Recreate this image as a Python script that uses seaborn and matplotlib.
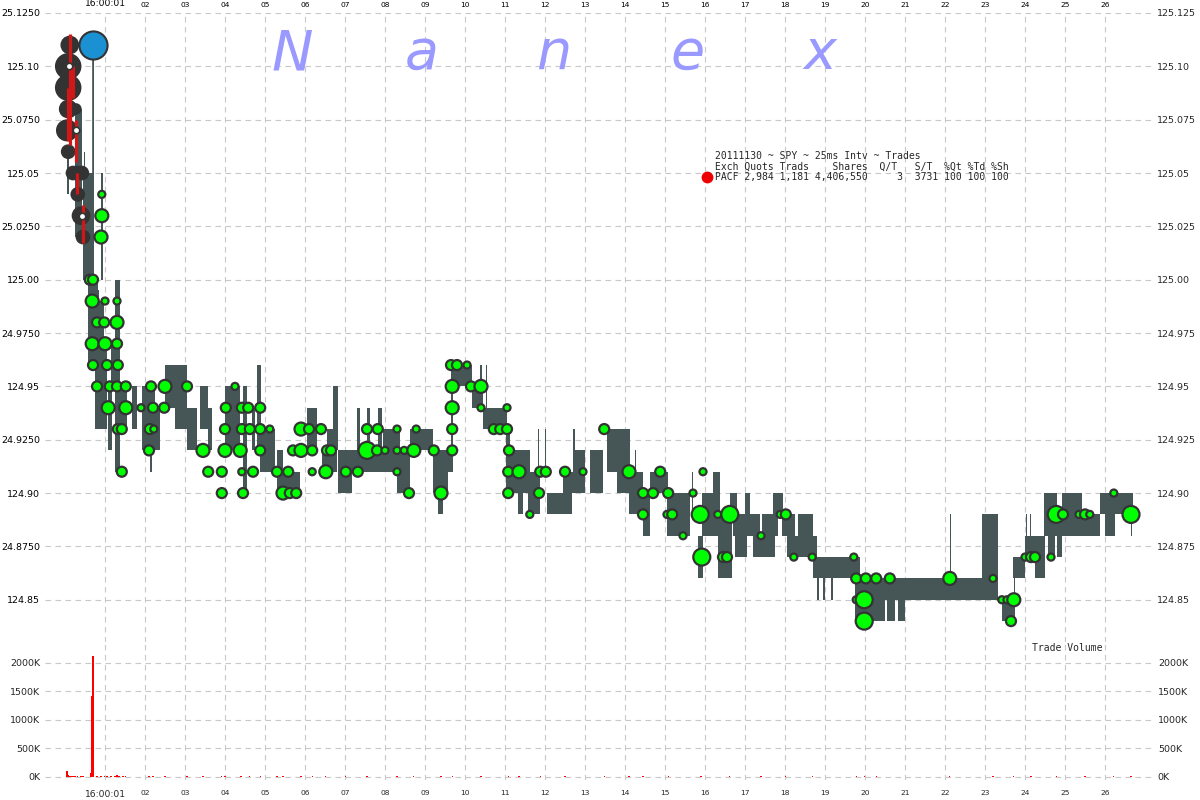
import numpy as np
import pandas as pd
import matplotlib
matplotlib.use("Agg")
import matplotlib.pyplot as plt
import seaborn as sns

sns.set_theme(style="white")
plt.rcParams["font.family"] = ["DejaVu Sans"]

# ------------------------------------------------------------
# data, time = seconds after 16:00:00, price in dollars
# ------------------------------------------------------------
# quote blocks (bid..ask range per 25ms interval, merged)
q_t0 = [0.05, 0.25, 0.45, 0.47, 0.70, 0.58, 0.82, 0.91, 0.75, 1.08,
        1.25, 1.38, 1.68, 1.92, 2.12, 2.20, 2.50, 2.75, 3.05, 3.38,
        3.58, 4.00, 4.45, 4.68, 4.80, 4.88, 5.30, 5.45, 6.05, 6.42,
        6.55, 6.70, 6.82, 6.82, 7.30, 7.55, 7.82, 7.95, 8.30, 8.62,
        9.20, 9.32, 9.55, 9.66, 9.68, 10.18, 10.38, 10.52, 10.45, 11.02,
        11.12, 11.32, 11.58, 11.82, 12.00, 12.05, 12.45, 12.70, 12.70, 13.12,
        13.55, 13.80, 14.10, 14.12, 14.25, 14.45, 14.62, 15.05, 15.38, 15.68,
        15.82, 15.92, 16.20, 16.32, 16.62, 16.70, 16.75, 17.00, 17.20, 17.42,
        17.70, 17.92, 18.05, 18.32, 18.70, 18.80, 18.95, 19.15, 19.75, 19.75,
        20.55, 20.82, 20.88, 22.12, 22.92, 23.42, 23.72, 23.70, 24.00, 24.25,
        24.02, 24.12, 24.48, 24.58, 24.80, 24.92, 25.38, 25.88, 26.00, 26.25,
        26.65, 0.85, 1.15]
q_t1 = [0.10, 0.42, 0.70, 0.50, 0.73, 0.82, 0.85, 0.94, 1.05, 1.18,
        1.38, 1.55, 1.80, 2.25, 2.17, 2.38, 3.05, 3.05, 3.30, 3.58,
        3.68, 4.38, 4.55, 4.75, 4.90, 5.25, 5.45, 5.88, 6.30, 6.55,
        6.80, 6.82, 7.95, 7.18, 7.38, 7.62, 7.92, 8.38, 8.62, 9.20,
        9.58, 9.45, 9.70, 9.70, 10.18, 10.45, 10.42, 10.56, 11.05, 11.12,
        11.62, 11.45, 11.88, 11.85, 12.03, 12.68, 12.80, 13.00, 12.75, 13.45,
        14.12, 14.12, 14.13, 14.45, 14.28, 14.62, 15.08, 15.38, 15.62, 15.71,
        15.95, 16.38, 16.38, 16.68, 16.80, 17.38, 17.05, 17.12, 17.75, 17.82,
        17.95, 18.25, 18.80, 18.70, 19.88, 18.85, 19.00, 19.20, 20.88, 20.50,
        20.75, 21.00, 23.12, 22.15, 23.32, 23.75, 23.75, 24.00, 24.50, 24.50,
        24.05, 24.15, 24.80, 24.75, 24.92, 25.42, 25.88, 26.25, 26.25, 26.70,
        26.68, 0.98, 1.25]
q_lo = [125.04, 125.02, 125.00, 125.05, 125.00, 124.96, 124.95, 125.00, 124.93, 124.92,
        124.91, 124.93, 124.93, 124.92, 124.91, 124.92, 124.94, 124.93, 124.92, 124.93,
        124.92, 124.92, 124.90, 124.92, 124.92, 124.91, 124.90, 124.90, 124.92, 124.91,
        124.91, 124.92, 124.91, 124.90, 124.92, 124.92, 124.92, 124.91, 124.90, 124.92,
        124.90, 124.89, 124.91, 124.92, 124.95, 124.94, 124.94, 124.94, 124.93, 124.90,
        124.90, 124.89, 124.89, 124.91, 124.91, 124.89, 124.90, 124.90, 124.92, 124.90,
        124.91, 124.90, 124.89, 124.89, 124.91, 124.88, 124.90, 124.88, 124.88, 124.89,
        124.86, 124.88, 124.90, 124.86, 124.89, 124.88, 124.87, 124.89, 124.87, 124.88,
        124.89, 124.88, 124.87, 124.88, 124.86, 124.85, 124.85, 124.85, 124.85, 124.84,
        124.84, 124.84, 124.85, 124.86, 124.85, 124.84, 124.85, 124.86, 124.87, 124.86,
        124.88, 124.88, 124.88, 124.87, 124.87, 124.88, 124.88, 124.89, 124.88, 124.89,
        124.88, 124.96, 124.95]
q_hi = [125.06, 125.08, 125.05, 125.06, 125.11, 125.00, 124.995, 125.05, 124.97, 124.95,
        125.00, 124.95, 124.95, 124.95, 124.95, 124.94, 124.96, 124.95, 124.94, 124.95,
        124.94, 124.95, 124.95, 124.94, 124.96, 124.93, 124.92, 124.91, 124.94, 124.92,
        124.93, 124.95, 124.92, 124.91, 124.94, 124.94, 124.94, 124.93, 124.92, 124.93,
        124.92, 124.91, 124.92, 124.96, 124.96, 124.95, 124.96, 124.96, 124.94, 124.93,
        124.92, 124.90, 124.91, 124.93, 124.93, 124.90, 124.91, 124.92, 124.93, 124.92,
        124.93, 124.92, 124.90, 124.91, 124.92, 124.90, 124.91, 124.90, 124.90, 124.91,
        124.88, 124.90, 124.91, 124.89, 124.90, 124.89, 124.88, 124.90, 124.88, 124.89,
        124.90, 124.89, 124.88, 124.89, 124.87, 124.86, 124.86, 124.86, 124.86, 124.85,
        124.85, 124.85, 124.86, 124.89, 124.89, 124.85, 124.87, 124.87, 124.88, 124.87,
        124.89, 124.89, 124.90, 124.88, 124.89, 124.90, 124.89, 124.90, 124.89, 124.90,
        124.89, 124.99, 124.97]

# trades (green), size class 1..4
tr_t = [0.92, 0.92, 0.90, 0.62, 0.70, 0.68, 1.00, 1.30, 0.80, 0.98,
        1.30, 0.68, 1.00, 1.30, 0.70, 1.05, 1.32, 0.80, 1.12, 1.30,
        1.52, 2.15, 2.50, 3.05, 1.08, 1.52, 1.90, 2.20, 2.48, 1.32,
        1.42, 2.12, 2.22, 2.10, 1.42, 3.45, 3.58, 3.92, 3.92, 4.00,
        4.00, 4.02, 4.25, 4.42, 4.58, 4.88, 4.42, 4.62, 4.88, 5.12,
        4.38, 4.88, 4.42, 4.70, 4.45, 5.30, 5.58, 5.45, 5.62, 5.78,
        5.90, 6.10, 5.70, 5.90, 6.18, 6.40, 6.18, 6.52, 6.55, 6.65,
        7.02, 7.32, 7.55, 7.82, 7.55, 7.80, 8.00, 8.30, 8.30, 8.48,
        8.72, 8.30, 8.60, 8.78, 9.22, 9.40, 9.68, 9.68, 9.68, 9.68,
        9.65, 9.80, 10.05, 10.15, 10.40, 10.40, 10.72, 10.88, 11.05, 11.05,
        11.10, 11.08, 11.35, 11.08, 11.88, 12.02, 11.85, 11.62, 12.50, 12.95,
        13.48, 14.10, 14.45, 14.70, 14.45, 14.88, 15.08, 15.05, 15.18, 15.45,
        15.70, 15.88, 15.95, 15.92, 16.32, 16.62, 16.45, 16.55, 17.40, 17.88,
        18.02, 18.22, 18.68, 19.72, 19.78, 20.02, 20.28, 20.62, 19.78, 19.98,
        19.98, 22.12, 23.20, 23.42, 23.55, 23.72, 23.65, 24.00, 24.15, 24.25,
        24.65, 24.78, 24.95, 25.35, 25.50, 25.62, 26.22, 26.65]
tr_p = [125.04, 125.03, 125.02, 125.00, 125.00, 124.99, 124.99, 124.99, 124.98, 124.98,
        124.98, 124.97, 124.97, 124.97, 124.96, 124.96, 124.96, 124.95, 124.95, 124.95,
        124.95, 124.95, 124.95, 124.95, 124.94, 124.94, 124.94, 124.94, 124.94, 124.93,
        124.93, 124.93, 124.93, 124.92, 124.91, 124.92, 124.91, 124.91, 124.90, 124.92,
        124.93, 124.94, 124.95, 124.94, 124.94, 124.94, 124.93, 124.93, 124.93, 124.93,
        124.92, 124.92, 124.91, 124.91, 124.90, 124.91, 124.91, 124.90, 124.90, 124.90,
        124.93, 124.93, 124.92, 124.92, 124.92, 124.93, 124.91, 124.91, 124.92, 124.92,
        124.91, 124.91, 124.93, 124.93, 124.92, 124.92, 124.92, 124.93, 124.92, 124.92,
        124.92, 124.91, 124.90, 124.93, 124.92, 124.90, 124.92, 124.93, 124.94, 124.95,
        124.96, 124.96, 124.96, 124.95, 124.95, 124.94, 124.93, 124.93, 124.94, 124.93,
        124.92, 124.91, 124.91, 124.90, 124.91, 124.91, 124.90, 124.89, 124.91, 124.91,
        124.93, 124.91, 124.90, 124.90, 124.89, 124.91, 124.90, 124.89, 124.89, 124.88,
        124.90, 124.89, 124.91, 124.87, 124.89, 124.89, 124.87, 124.87, 124.88, 124.89,
        124.89, 124.87, 124.87, 124.87, 124.86, 124.86, 124.86, 124.86, 124.85, 124.85,
        124.84, 124.86, 124.86, 124.85, 124.85, 124.85, 124.84, 124.87, 124.87, 124.87,
        124.87, 124.89, 124.89, 124.89, 124.89, 124.89, 124.90, 124.89]
tr_sz = [1, 3, 3, 2, 2, 3, 1, 1, 2, 2,
         3, 3, 3, 2, 2, 2, 2, 2, 2, 2,
         2, 2, 3, 2, 3, 3, 1, 2, 2, 2,
         2, 2, 1, 2, 2, 3, 2, 2, 2, 3,
         2, 2, 1, 2, 2, 2, 2, 2, 2, 1,
         3, 2, 1, 2, 2, 2, 2, 3, 2, 2,
         3, 2, 2, 3, 2, 2, 1, 3, 2, 2,
         2, 2, 2, 2, 4, 2, 1, 1, 1, 1,
         3, 1, 2, 1, 2, 3, 2, 2, 3, 3,
         2, 2, 1, 2, 3, 1, 2, 2, 1, 2,
         2, 2, 3, 2, 2, 2, 2, 1, 2, 1,
         2, 3, 2, 2, 2, 2, 2, 1, 2, 1,
         1, 4, 1, 4, 1, 4, 2, 2, 1, 1,
         2, 1, 1, 1, 2, 2, 2, 2, 1, 4,
         4, 3, 1, 1, 1, 3, 2, 1, 2, 2,
         1, 4, 2, 1, 2, 1, 1, 4]

# trades before the close print (dark)
pre_t = [0.12, 0.08, 0.08, 0.08, 0.05, 0.08, 0.20, 0.30, 0.42, 0.32, 0.40, 0.45, 0.27]
pre_p = [125.11, 125.10, 125.09, 125.08, 125.07, 125.06, 125.05, 125.05, 125.05, 125.04, 125.03, 125.02, 125.08]
pre_sz = [4, 6, 6, 4, 5, 3, 3, 3, 3, 3, 4, 3, 2]
wh_t = [0.10, 0.28, 0.42]
wh_p = [125.10, 125.07, 125.03]

# closing print (blue)
close_t = [0.70]
close_p = [125.11]

# red trade path segments
red_t = [0.12, 0.20, 0.08, 0.28, 0.30, 0.45]
red_hi = [125.115, 125.10, 125.09, 125.075, 125.05, 125.035]
red_lo = [125.063, 125.085, 125.065, 125.055, 125.04, 125.017]

# trade volume, thousands of shares
vol_t = [0.05, 0.075, 0.10, 0.15, 0.20, 0.25, 0.32, 0.40, 0.45, 0.65,
         0.675, 0.70, 0.80, 0.90, 0.98, 1.05, 1.15, 1.25, 1.30, 1.35,
         1.45, 1.52, 2.10, 2.20, 2.50, 3.05, 3.45, 3.92, 4.00, 4.40,
         4.62, 4.88, 5.30, 5.45, 5.90, 6.18, 6.52, 7.02, 7.55, 8.30,
         8.72, 9.40, 9.68, 10.40, 11.08, 11.35, 11.88, 12.50, 13.48, 14.10,
         14.45, 15.08, 15.88, 15.92, 16.62, 17.40, 18.02, 18.68, 19.78, 19.98,
         20.28, 22.12, 23.20, 23.72, 24.15, 24.78, 25.50, 26.22, 26.65]
vol_k = [105, 30, 12, 12, 12, 12, 12, 12, 12, 70,
         1420, 2120, 12, 12, 22, 12, 12, 25, 35, 12,
         12, 12, 12, 12, 20, 12, 12, 12, 12, 12,
         12, 12, 12, 12, 12, 12, 12, 12, 12, 12,
         12, 12, 12, 12, 12, 12, 12, 12, 12, 12,
         12, 12, 12, 12, 12, 12, 12, 12, 12, 12,
         12, 12, 12, 12, 12, 12, 12, 12, 12]

x_ticks = list(range(1, 27))
x_labels = ["16:00:01", "02", "03", "04", "05", "06", "07", "08", "09", "10",
            "11", "12", "13", "14", "15", "16", "17", "18", "19", "20",
            "21", "22", "23", "24", "25", "26"]
p_ticks = [124.85, 124.875, 124.90, 124.925, 124.95, 124.975,
           125.00, 125.025, 125.05, 125.075, 125.10, 125.125]
p_left = ["124.85", "24.8750", "124.90", "24.9250", "124.95", "24.9750",
          "125.00", "25.0250", "125.05", "25.0750", "125.10", "25.1250"]
p_right = ["124.85", "124.875", "124.90", "124.925", "124.95", "124.975",
           "125.00", "125.025", "125.05", "125.075", "125.10", "125.125"]
v_ticks = [0, 500, 1000, 1500, 2000]
v_labels = ["0K", "500K", "1000K", "1500K", "2000K"]

legend_lines = ["20111130 ~ SPY ~ 25ms Intv ~ Trades",
                "Exch Quots Trads    Shares  Q/T   S/T  %Qt %Td %Sh",
                "PACF 2,984 1,181 4,406,550     3  3731 100 100 100"]

GRAY = "#465656"
GREEN = "#00ff00"
EDGE = "#333333"
GRID = "#c8c8c8"
SIZES = {1: 26, 2: 52, 3: 88, 4: 150, 5: 215, 6: 320, 7: 410}
DASH = (0, (5, 4))

fig = plt.figure(figsize=(12, 8), dpi=100)
ax = fig.add_axes([45 / 1200, 158 / 800, 1108 / 1200, 629 / 800])
axv = fig.add_axes([45 / 1200, 20 / 800, 1108 / 1200, 138 / 800])

# quotes
ax.bar(q_t0, np.subtract(q_hi, q_lo), width=np.subtract(q_t1, q_t0), bottom=q_lo,
       align="edge", color=GRAY, linewidth=0, zorder=2)
ax.vlines(red_t, red_lo, red_hi, color="#d01818", lw=2.3, zorder=4)

pre = pd.DataFrame({"t": pre_t, "p": pre_p, "sz": pre_sz})
sns.scatterplot(data=pre, x="t", y="p", size="sz", sizes=SIZES, color=EDGE,
                edgecolor=EDGE, linewidth=1.2, legend=False, ax=ax, zorder=3)
ax.scatter(wh_t, wh_p, s=22, color="white", edgecolor=EDGE, linewidth=1.2, zorder=5)

trades = pd.DataFrame({"t": tr_t, "p": tr_p, "sz": tr_sz})
sns.scatterplot(data=trades, x="t", y="p", size="sz", sizes=SIZES, color=GREEN,
                edgecolor=EDGE, linewidth=1.6, legend=False, ax=ax, zorder=5)
ax.vlines(close_t, [125.0], close_p, color=GRAY, lw=1.2, zorder=2)
ax.scatter(close_t, close_p, s=SIZES[7], color="#1b90d2", edgecolor=EDGE,
           linewidth=1.5, zorder=6)

ax.set_xlim(-0.5, 27.2)
ax.set_ylim(124.8302, 125.125)
ax.set(xlabel="", ylabel="")
ax.set_axisbelow(True)
ax.grid(True, color=GRID, linestyle=DASH, linewidth=0.8)
ax.set_xticks(x_ticks, labels=x_labels)
ax.set_yticks(p_ticks, labels=p_left)
ax.xaxis.set_ticks_position("top")
ax.tick_params(axis="x", length=0, pad=3.5, labelsize=5.4, colors="black")
ax.tick_params(axis="y", length=0, pad=3.5, labelsize=6.8, colors="black")
ax.get_xticklabels()[0].set_fontsize(6.6)
sec = ax.secondary_yaxis("right")
sec.set_yticks(p_ticks, labels=p_right)
sec.tick_params(length=0, pad=3, labelsize=6.8)
for s in list(ax.spines.values()) + list(sec.spines.values()):
    s.set_visible(False)

# volume
axv.bar(vol_t, vol_k, width=0.03, color="#ff0000", linewidth=0, zorder=3)
axv.set_xlim(-0.5, 27.2)
axv.set_ylim(-53, 2368)
axv.set_axisbelow(True)
axv.grid(True, color=GRID, linestyle=DASH, linewidth=0.8)
axv.set_xticks(x_ticks, labels=x_labels)
axv.set_yticks(v_ticks, labels=v_labels)
axv.tick_params(axis="x", length=0, pad=7, labelsize=5.4)
axv.tick_params(axis="y", length=0, pad=3.5, labelsize=6.8, labelright=True)
axv.get_xticklabels()[0].set_fontsize(6.6)
for s in axv.spines.values():
    s.set_visible(False)

# watermark
for letter, xp in zip("Nanex", [292, 422, 554, 688, 820]):
    fig.text(xp / 1200, 1 - 69 / 800, letter, fontsize=40, style="italic",
             color="#9999ff", ha="center", va="baseline")

# legend block
for i, line in enumerate(legend_lines):
    fig.text(715 / 1200, 1 - (156 + 10.5 * i) / 800, line, family="DejaVu Sans Mono",
             fontsize=7.0, ha="left", va="center")
fig.lines.append(plt.Line2D([707 / 1200], [1 - 177 / 800], marker="o", ms=7.5,
                            color="#ee0000", transform=fig.transFigure))
fig.text(1032 / 1200, 1 - 648 / 800, "Trade Volume", family="DejaVu Sans Mono",
         fontsize=7.0, ha="left", va="center")

fig.savefig("out.png", dpi=100, facecolor="white")
